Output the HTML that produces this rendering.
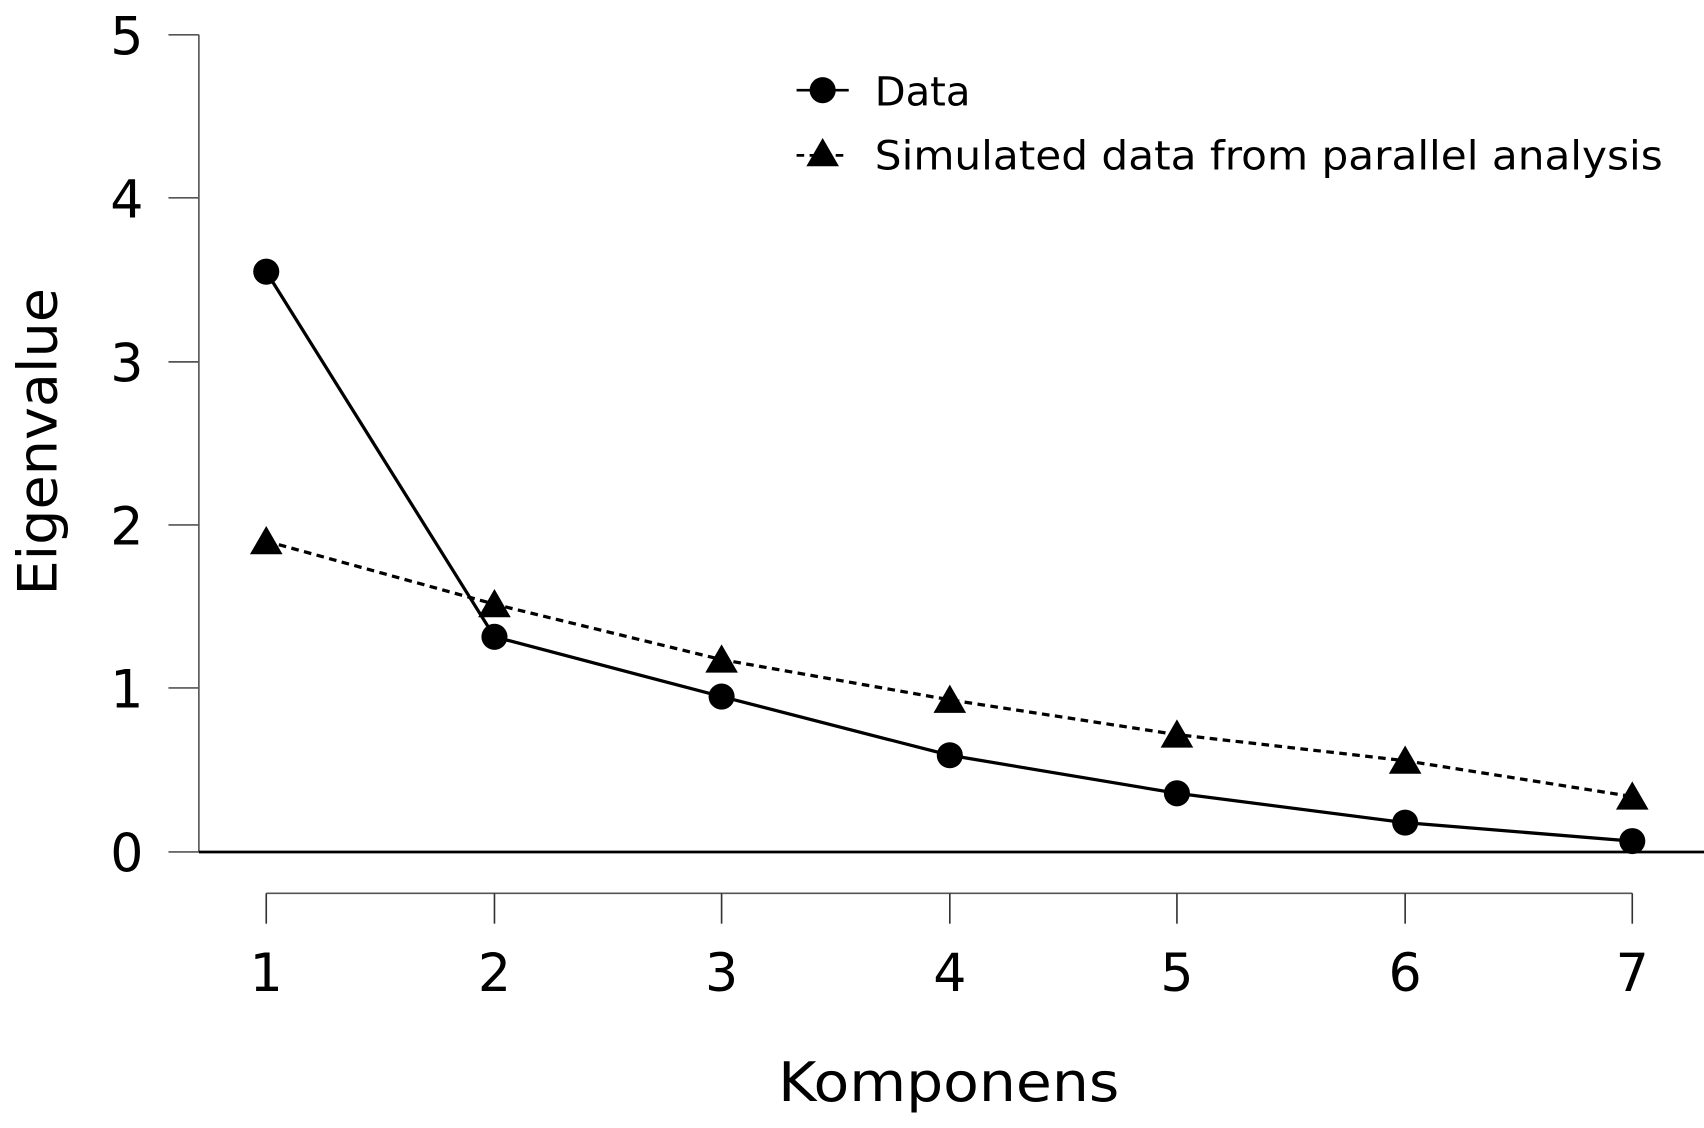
<!DOCTYPE html>
<html><head><meta charset="utf-8"><style>
html,body{margin:0;padding:0;background:#fff;}
svg{display:block;}
text{font-family:"DejaVu Sans","Liberation Sans",sans-serif;fill:#000;}
</style></head><body>
<svg width="1704" height="1128" viewBox="0 0 1568 1038" preserveAspectRatio="none" xmlns="http://www.w3.org/2000/svg">
<line x1="183" y1="32" x2="183" y2="784" stroke="#555" stroke-width="1.5"/>
<g stroke="#555" stroke-width="1.5">
<line x1="155" y1="32" x2="183" y2="32"/>
<line x1="155" y1="182" x2="183" y2="182"/>
<line x1="155" y1="333" x2="183" y2="333"/>
<line x1="155" y1="483" x2="183" y2="483"/>
<line x1="155" y1="633" x2="183" y2="633"/>
<line x1="155" y1="784" x2="183" y2="784"/>
</g>
<g font-size="48" text-anchor="end">
<text x="132" y="50">5</text>
<text x="132" y="200">4</text>
<text x="132" y="351">3</text>
<text x="132" y="501">2</text>
<text x="132" y="651">1</text>
<text x="132" y="802">0</text>
</g>
<line x1="183" y1="784" x2="1568" y2="784" stroke="#000" stroke-width="2.5"/>
<line x1="245" y1="822" x2="1502" y2="822" stroke="#555" stroke-width="1.5"/>
<g stroke="#333" stroke-width="1.5">
<line x1="245" y1="822" x2="245" y2="850"/>
<line x1="455" y1="822" x2="455" y2="850"/>
<line x1="664" y1="822" x2="664" y2="850"/>
<line x1="874" y1="822" x2="874" y2="850"/>
<line x1="1083" y1="822" x2="1083" y2="850"/>
<line x1="1293" y1="822" x2="1293" y2="850"/>
<line x1="1502" y1="822" x2="1502" y2="850"/>
</g>
<g font-size="48" text-anchor="middle">
<text x="245" y="912">1</text>
<text x="455" y="912">2</text>
<text x="664" y="912">3</text>
<text x="874" y="912">4</text>
<text x="1083" y="912">5</text>
<text x="1293" y="912">6</text>
<text x="1502" y="912">7</text>
</g>
<text x="716" y="1013" font-size="50" textLength="314" lengthAdjust="spacingAndGlyphs">Komponens</text>
<text transform="translate(52,548) rotate(-90)" font-size="50" textLength="283" lengthAdjust="spacingAndGlyphs">Eigenvalue</text>
<polyline points="245,498 455,556 664,607 874,644 1083,676 1293,700 1502,733" fill="none" stroke="#000" stroke-width="3" stroke-dasharray="7,5"/>
<g fill="#000">
<polygon points="245,484 230,510 260,510"/>
<polygon points="455,542 440,568 470,568"/>
<polygon points="664,593 649,619 679,619"/>
<polygon points="874,630 859,656 889,656"/>
<polygon points="1083,662 1068,688 1098,688"/>
<polygon points="1293,686 1278,712 1308,712"/>
<polygon points="1502,719 1487,745 1517,745"/>
</g>
<polyline points="245,250 455,586 664,641 874,695 1083,730 1293,757 1502,774" fill="none" stroke="#000" stroke-width="3"/>
<g fill="#000">
<circle cx="245" cy="250" r="12"/>
<circle cx="455" cy="586" r="12"/>
<circle cx="664" cy="641" r="12"/>
<circle cx="874" cy="695" r="12"/>
<circle cx="1083" cy="730" r="12"/>
<circle cx="1293" cy="757" r="12"/>
<circle cx="1502" cy="774" r="12"/>
</g>
<line x1="733" y1="83" x2="781" y2="83" stroke="#000" stroke-width="2.5"/>
<circle cx="757" cy="83" r="12" fill="#000"/>
<text x="805" y="97" font-size="37" textLength="88" lengthAdjust="spacingAndGlyphs">Data</text>
<line x1="733" y1="143" x2="781" y2="143" stroke="#000" stroke-width="2.5" stroke-dasharray="7,5"/>
<polygon points="757,127 742,153 772,153" fill="#000"/>
<text x="805" y="156" font-size="37" textLength="725" lengthAdjust="spacingAndGlyphs">Simulated data from parallel analysis</text>
</svg>
</body></html>
